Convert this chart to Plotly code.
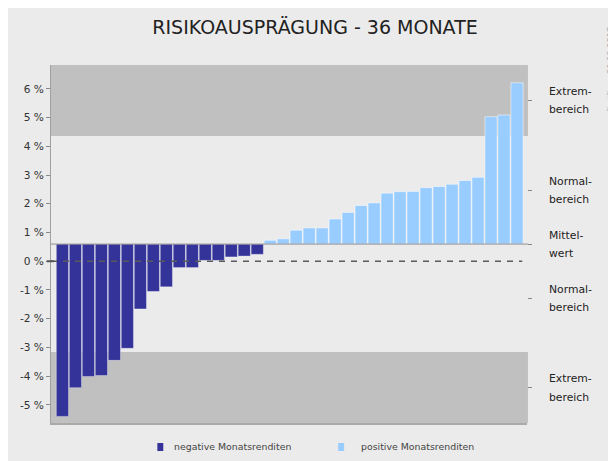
import numpy as np
import plotly.graph_objects as go

# ---- data ----
renditen = [-5.40, -4.40, -4.01, -3.98, -3.45, -3.03, -1.66, -1.05, -0.89, -0.22,
            -0.22, 0.03, 0.03, 0.15, 0.18, 0.24, 0.73, 0.78, 1.08, 1.16,
            1.16, 1.47, 1.70, 1.94, 2.03, 2.37, 2.42, 2.43, 2.56, 2.60,
            2.68, 2.81, 2.92, 5.03, 5.09, 6.21]
monat = list(range(len(renditen)))
y_ticks = [-5, -4, -3, -2, -1, 0, 1, 2, 3, 4, 5, 6]
y_ticktext = [f"{v} %" for v in y_ticks]
extrem_oben = 4.36
extrem_unten = -3.16
y_range = [-5.63, 6.83]
titel = "RISIKOAUSPRÄGUNG - 36 MONATE"
legende = ["negative Monatsrenditen", "positive Monatsrenditen"]
bereich_labels = [("Extrem-", "bereich"), ("Normal-", "bereich"), ("Mittel-", "wert"),
                  ("Normal-", "bereich"), ("Extrem-", "bereich")]

mittelwert = float(np.mean(renditen))

DARK = "#333399"
LIGHT = "#99ccff"
FONT = "DejaVu Sans"

neg_x = [m for m, v in zip(monat, renditen) if v < mittelwert]
neg_y = [v - mittelwert for v in renditen if v < mittelwert]
pos_x = [m for m, v in zip(monat, renditen) if v >= mittelwert]
pos_y = [v - mittelwert for v in renditen if v >= mittelwert]

fig = go.Figure()
fig.add_trace(go.Bar(x=neg_x, y=neg_y, base=mittelwert, name=legende[0],
                     marker=dict(color=DARK, line=dict(color="rgba(255,255,255,0.35)", width=1)),
                     showlegend=False))
fig.add_trace(go.Bar(x=pos_x, y=pos_y, base=mittelwert, name=legende[1],
                     marker=dict(color=LIGHT, line=dict(color="rgba(255,255,255,0.5)", width=1)),
                     showlegend=False))
# invisible trace to carry the right axis
fig.add_trace(go.Scatter(x=[0], y=[mittelwert], yaxis="y2", mode="markers",
                         marker=dict(opacity=0), showlegend=False, hoverinfo="skip"))

# right-side region midpoints
r_ticks = [(extrem_oben + y_range[1]) / 2, (mittelwert + extrem_oben) / 2, mittelwert,
           (mittelwert + extrem_unten) / 2, (extrem_unten + y_range[0]) / 2]

shapes = []
# extreme bands
for y0, y1 in [(extrem_oben, y_range[1]), (y_range[0], extrem_unten)]:
    shapes.append(dict(type="rect", xref="paper", yref="y", x0=0, x1=1.002, y0=y0, y1=y1,
                       fillcolor="#c0c0c0", line=dict(width=0), layer="below"))
# mean line
shapes.append(dict(type="line", xref="paper", yref="y", x0=0, x1=1.002, y0=mittelwert, y1=mittelwert,
                   line=dict(color="#909090", width=1), layer="above"))
# dashed zero line
shapes.append(dict(type="line", xref="paper", yref="y", x0=0, x1=0.99, y0=0, y1=0,
                   line=dict(color="#5a5a5a", width=1.5, dash="6px,6px"), layer="above"))
# darker zero tick
shapes.append(dict(type="line", xref="paper", yref="y", x0=-0.009, x1=0.006, y0=0, y1=0,
                   line=dict(color="#555", width=2), layer="above"))
# legend swatches
for x0 in [0.2234, 0.6033]:
    shapes.append(dict(type="rect", xref="paper", yref="paper", x0=x0, x1=x0 + 0.0125,
                       y0=-0.0782, y1=-0.0559, fillcolor=DARK if x0 < 0.5 else LIGHT,
                       line=dict(width=0)))

annotations = []
for yv, (l1, l2) in zip(r_ticks, bereich_labels):
    for txt, ys in [(l1, 9), (l2, -9.5)]:
        annotations.append(dict(x=1.0418, xref="paper", y=yv, yref="y", yshift=ys, text=txt,
                                showarrow=False, xanchor="left", yanchor="middle",
                                font=dict(family=FONT, size=10.8, color="#222")))
for xt, txt in zip([0.2547, 0.6472], legende):
    annotations.append(dict(x=xt, xref="paper", y=-0.067, yref="paper", text=txt,
                            showarrow=False, xanchor="left", yanchor="middle",
                            font=dict(family=FONT, size=9.4, color="#444")))
annotations.append(dict(x=1.1764, xref="paper", y=0.989, yref="paper",
                        text="firstfive<span style='color:#e03030'>●</span>31.12.2017",
                        textangle=-90, showarrow=False, xanchor="center", yanchor="middle",
                        font=dict(family=FONT, size=8.2, color="#b0b0b0")))

fig.update_layout(
    width=608, height=453,
    margin=dict(l=40, r=89, t=57, b=38),
    paper_bgcolor="#ebebeb", plot_bgcolor="rgba(0,0,0,0)",
    bargap=0.06,
    title=dict(text=titel, x=0.505, xref="container", y=0.958, yref="container",
               xanchor="center", yanchor="middle",
               font=dict(family=FONT, size=19, color="#222")),
    xaxis=dict(range=[-0.88, 35.77], showticklabels=False, ticks="", showgrid=False,
               zeroline=False, showline=True, linecolor="#aaaaaa", linewidth=2),
    yaxis=dict(range=y_range, tickvals=y_ticks, ticktext=y_ticktext, ticks="outside",
               ticklen=4, tickcolor="#888", showgrid=False, zeroline=False,
               showline=True, linecolor="#a0a0a0", linewidth=1,
               tickfont=dict(family=FONT, size=10.6, color="#333")),
    yaxis2=dict(range=y_range, overlaying="y", side="right", tickvals=r_ticks,
                ticktext=[""] * len(r_ticks), ticks="outside", ticklen=4, tickcolor="#888",
                showgrid=False, zeroline=False, showline=False),
    shapes=shapes, annotations=annotations,
    showlegend=False,
)

fig.write_html("out.html")
